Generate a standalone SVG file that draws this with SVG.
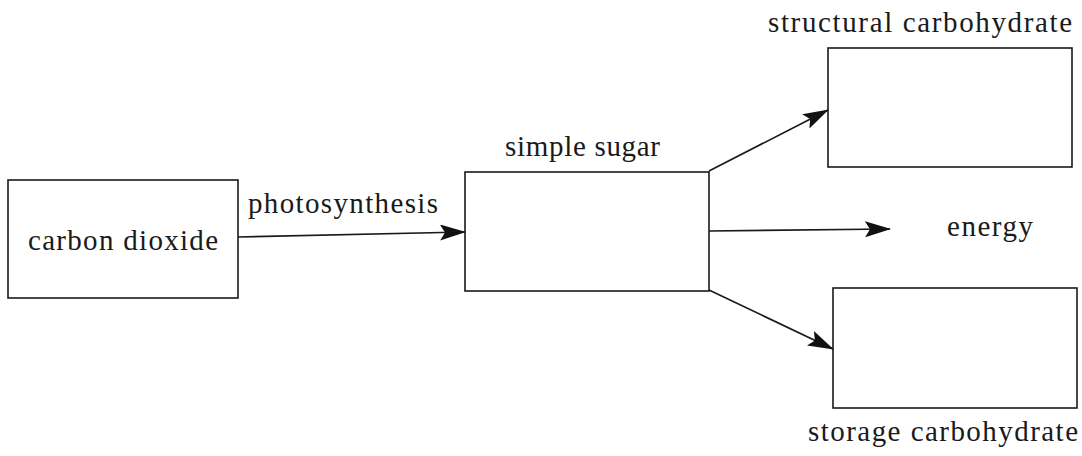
<svg xmlns="http://www.w3.org/2000/svg" width="1082" height="456" viewBox="0 0 1082 456">
  <style>
    .box { fill: none; stroke: #1a1a1a; stroke-width: 1.6; }
    .edge { fill: none; stroke: #1a1a1a; stroke-width: 1.7; }
    .lbl { font-family: "Liberation Serif", "Times New Roman", serif; font-size: 29px; fill: #1a1a1a; }
  </style>
  <defs>
    <marker id="arrow" viewBox="0 0 26 16" refX="25" refY="8" markerWidth="26" markerHeight="16" markerUnits="userSpaceOnUse" orient="auto">
      <path d="M0,0 L26,8 L0,16 L5,8 Z" fill="#111111"/>
    </marker>
  </defs>
  <rect width="1082" height="456" fill="#ffffff"/>

  <g id="carbon-dioxide">
    <rect class="box" x="8" y="180" width="230" height="118"/>
    <text class="lbl" x="28" y="250" textLength="190" lengthAdjust="spacing">carbon dioxide</text>
  </g>

  <g id="simple-sugar">
    <rect class="box" x="465" y="172" width="244" height="119"/>
    <text class="lbl" x="505" y="156" textLength="155" lengthAdjust="spacing">simple sugar</text>
  </g>

  <g id="structural-carbohydrate">
    <rect class="box" x="828" y="48" width="244" height="119"/>
    <text class="lbl" x="768" y="32" textLength="304" lengthAdjust="spacing">structural carbohydrate</text>
  </g>

  <g id="energy">
    <text class="lbl" x="947" y="236" textLength="86" lengthAdjust="spacing">energy</text>
  </g>

  <g id="storage-carbohydrate">
    <rect class="box" x="833" y="288" width="244" height="120"/>
    <text class="lbl" x="808" y="441" textLength="270" lengthAdjust="spacing">storage carbohydrate</text>
  </g>

  <g id="connectors">
    <line class="edge" x1="238" y1="237" x2="465" y2="232" marker-end="url(#arrow)"/>
    <text class="lbl" x="248" y="213" textLength="190" lengthAdjust="spacing">photosynthesis</text>
    <line class="edge" x1="709" y1="171" x2="828" y2="110" marker-end="url(#arrow)"/>
    <line class="edge" x1="709" y1="231" x2="890" y2="229" marker-end="url(#arrow)"/>
    <line class="edge" x1="709" y1="290" x2="833" y2="349" marker-end="url(#arrow)"/>
  </g>
</svg>
